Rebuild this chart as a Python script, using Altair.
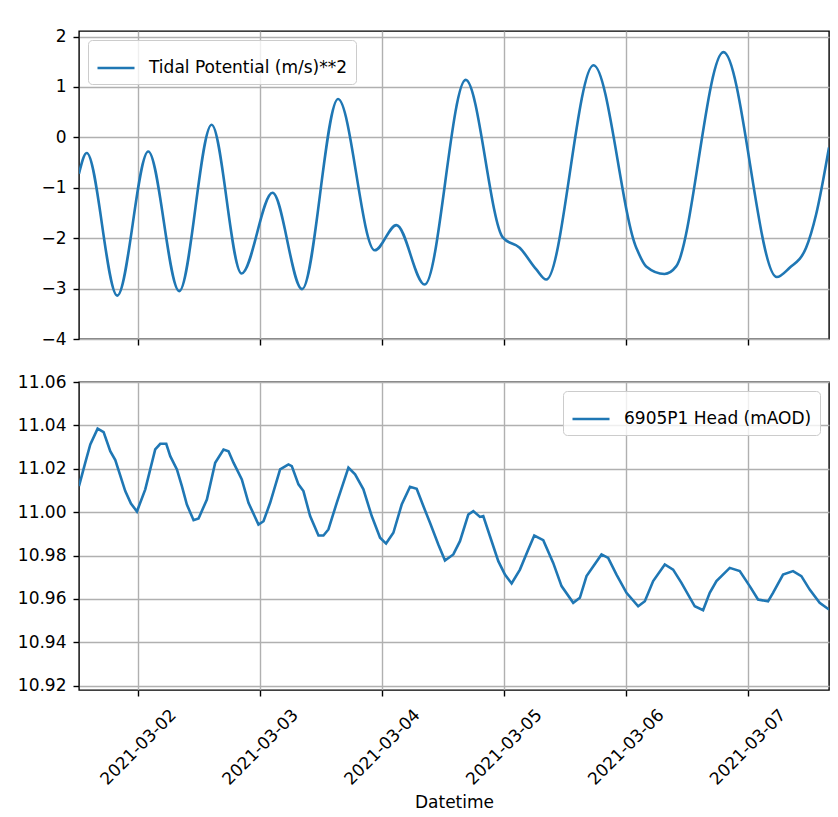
import altair as alt
import pandas as pd

BASE = "2021-03-01"

# Tidal potential: turning points and shoulders
tide_hours = [12.33, 13.85, 19.87, 25.97, 32.07, 38.44, 44.34, 50.44, 56.26, 63.34,
              70.56, 74.83, 80.40, 88.47, 95.80, 99.09, 102.37, 104.34, 113.64, 122.05,
              124.01, 127.61, 129.91, 139.22, 149.71, 152.20, 155.49, 157.46, 160.00]
tide_values = [-0.72, -0.31, -3.14, -0.28, -3.05, 0.25, -2.70, -1.10, -3.01, 0.76,
               -2.24, -1.74, -2.92, 1.14, -1.99, -2.19, -2.62, -2.82, 1.43, -2.19,
               -2.56, -2.71, -2.56, 1.69, -2.77, -2.59, -2.19, -1.53, -0.20]

head_hours = [12.33, 13.57, 14.56, 16.00, 17.18, 18.49, 19.48, 21.44, 22.56, 23.74,
              25.38, 27.34, 28.33, 29.51, 30.30, 31.61, 32.59, 33.57, 34.89, 35.87,
              37.51, 39.15, 40.79, 41.77, 42.75, 44.39, 45.70, 47.67, 48.66, 49.97,
              51.93, 53.57, 54.23, 55.54, 56.52, 57.84, 59.48, 60.46, 61.44, 63.08,
              65.38, 66.69, 68.33, 69.97, 71.61, 72.79, 74.23, 75.87, 77.51, 78.82,
              80.13, 81.44, 83.08, 84.39, 86.03, 87.34, 88.98, 89.97, 91.28, 91.93,
              93.25, 94.89, 96.20, 97.51, 99.15, 100.79, 101.97, 103.74, 105.70, 107.34,
              109.64, 110.95, 112.26, 115.21, 116.52, 118.16, 120.13, 122.43, 123.74, 125.38,
              127.67, 129.31, 130.95, 133.57, 135.21, 136.52, 137.84, 140.46, 142.43, 144.39,
              146.03, 148.00, 148.98, 150.95, 152.92, 154.56, 156.20, 158.16, 160.00]
head_values = [11.0120, 11.0228, 11.0312, 11.0385, 11.0369, 11.0281, 11.0240, 11.0097, 11.0040, 11.0003,
               11.0105, 11.0289, 11.0315, 11.0315, 11.0258, 11.0197, 11.0120, 11.0035, 10.9963, 10.9971,
               11.0058, 11.0228, 11.0289, 11.0281, 11.0228, 11.0151, 11.0043, 10.9943, 10.9958, 11.0043,
               11.0197, 11.0220, 11.0212, 11.0128, 11.0097, 10.9982, 10.9892, 10.9892, 10.9920, 11.0043,
               11.0205, 11.0174, 11.0105, 10.9982, 10.9882, 10.9855, 10.9905, 11.0035, 11.0117, 11.0108,
               11.0028, 10.9951, 10.9851, 10.9777, 10.9805, 10.9866, 10.9989, 11.0005, 10.9978, 10.9982,
               10.9889, 10.9774, 10.9712, 10.9671, 10.9735, 10.9828, 10.9892, 10.9871, 10.9766, 10.9659,
               10.9582, 10.9605, 10.9705, 10.9805, 10.9789, 10.9712, 10.9628, 10.9566, 10.9589, 10.9682,
               10.9759, 10.9735, 10.9674, 10.9566, 10.9548, 10.9628, 10.9682, 10.9743, 10.9728, 10.9659,
               10.9597, 10.9589, 10.9628, 10.9712, 10.9728, 10.9705, 10.9643, 10.9582, 10.9551]

tide_label = "Tidal Potential (m/s)**2"
head_label = "6905P1 Head (mAOD)"
day_ticks = [2, 3, 4, 5, 6, 7]
tide_ticks = [-4, -3, -2, -1, 0, 1, 2]
head_ticks = [10.92, 10.94, 10.96, 10.98, 11.00, 11.02, 11.04, 11.06]
tide_domain = [-4, 2.11]
head_domain = [10.918, 11.06]

base = pd.Timestamp(BASE)
tide_df = pd.DataFrame({
    "Datetime": base + pd.to_timedelta(tide_hours, unit="h"),
    "value": tide_values,
    "series": tide_label,
})
head_df = pd.DataFrame({
    "Datetime": base + pd.to_timedelta(head_hours, unit="h"),
    "value": head_values,
    "series": head_label,
})

x_domain = [alt.DateTime(year=2021, month=3, date=1, hours=12, minutes=20),
            alt.DateTime(year=2021, month=3, date=7, hours=16, minutes=0)]
x_values = [alt.DateTime(year=2021, month=3, date=d) for d in day_ticks]
BLUE = "#1f77b4"
FONT = "DejaVu Sans"


def legend(orient):
    return alt.Legend(
        title=None, orient=orient, offset=9,
        fillColor="rgba(255,255,255,0.8)", strokeColor="#cccccc",
        cornerRadius=4, padding=8,
        symbolType="stroke", symbolSize=1369, symbolStrokeWidth=2.6,
        symbolStrokeColor=BLUE,
        labelFontSize=17, labelFont=FONT, labelColor="#000000", labelOffset=13,
        labelLimit=500,
    )


top = alt.Chart(tide_df).mark_line(strokeWidth=2.6, interpolate="monotone", clip=True).encode(
    x=alt.X("Datetime:T", scale=alt.Scale(domain=x_domain),
            axis=alt.Axis(values=x_values, labels=False, title=None, grid=True, domain=False)),
    y=alt.Y("value:Q", scale=alt.Scale(domain=tide_domain, nice=False, zero=False),
            axis=alt.Axis(values=tide_ticks, format="d", title=None, domain=False)),
    color=alt.Color("series:N", scale=alt.Scale(range=[BLUE]), legend=legend("top-left")),
).properties(width=750, height=308)

bottom = alt.Chart(head_df).mark_line(strokeWidth=2.6, clip=True).encode(
    x=alt.X("Datetime:T", scale=alt.Scale(domain=x_domain),
            axis=alt.Axis(values=x_values, format="%Y-%m-%d", title="Datetime",
                          labelAngle=-45, labelAlign="center", labelBaseline="middle",
                          labelPadding=51, labelFlush=False, labelOverlap=False,
                          titlePadding=7, domain=False)),
    y=alt.Y("value:Q", scale=alt.Scale(domain=head_domain, nice=False, zero=False),
            axis=alt.Axis(values=head_ticks, format=".2f", title=None, domain=False)),
    color=alt.Color("series:N", scale=alt.Scale(range=[BLUE]), legend=legend("top-right")),
).properties(width=750, height=308)

chart = alt.vconcat(top, bottom, spacing=24).resolve_scale(
    color="independent"
).properties(
    padding={"left": 8, "top": 18, "right": 0, "bottom": 0},
    background="#ffffff",
).configure_view(
    stroke="#000000", strokeWidth=1.4,
).configure_axis(
    labelFont=FONT, labelFontSize=17, labelColor="#000000",
    titleFont=FONT, titleFontSize=17, titleFontWeight="normal", titleColor="#000000",
    tickColor="#000000", tickSize=6, tickWidth=1.4, labelPadding=7,
    gridColor="#b0b0b0", gridWidth=1.4,
)

chart.save("out.html", embed_options={"renderer": "svg", "actions": False})
